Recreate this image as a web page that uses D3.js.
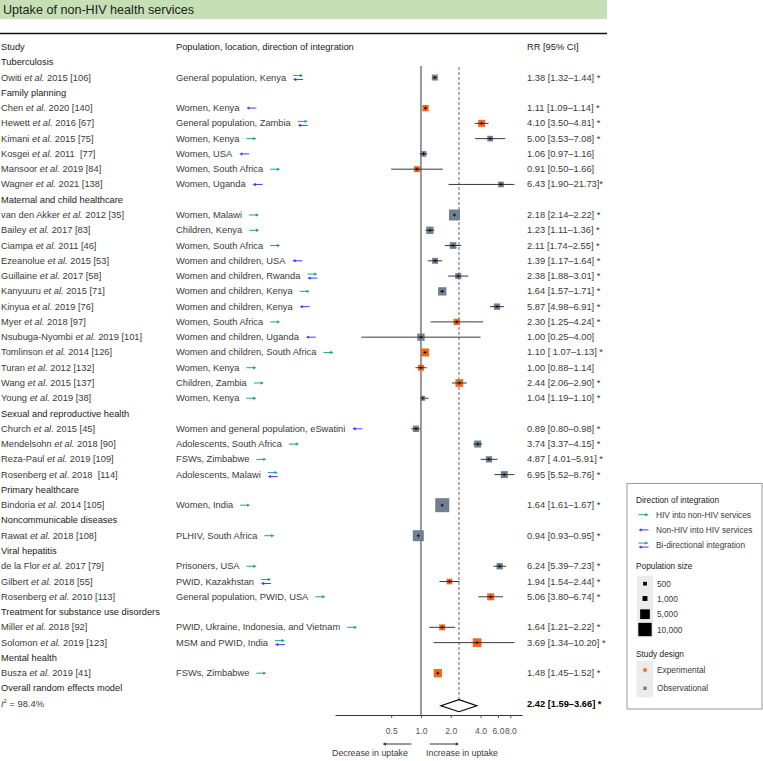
<!DOCTYPE html>
<html>
<head>
<meta charset="utf-8">
<script src="https://cdn.jsdelivr.net/npm/d3@7"></script>
<style>
  html, body { margin: 0; padding: 0; background: #fff; }
  svg { display: block; font-family: "Liberation Sans", Arial, sans-serif; }
  text { white-space: pre; }
</style>
</head>
<body>
<svg id="chart" width="763" height="761"></svg>
<script>
// ---------------- DATA ----------------
const title = "Uptake of non-HIV health services";
const groups = ["Tuberculosis", "Family planning", "Maternal and child healthcare",
  "Sexual and reproductive health", "Primary healthcare", "Noncommunicable diseases",
  "Viral hepatitis", "Treatment for substance use disorders", "Mental health"];
const studyGroup = [0, 1,1,1,1,1,1, 2,2,2,2,2,2,2,2,2,2,2,2,2, 3,3,3,3, 4, 5, 6,6,6, 7,7, 8];
const studyAuthor = ["Owiti","Chen","Hewett","Kimani","Kosgei","Mansoor","Wagner",
  "van den Akker","Bailey","Ciampa","Ezeanolue","Guillaine","Kanyuuru","Kinyua","Myer",
  "Nsubuga-Nyombi","Tomlinson","Turan","Wang","Young",
  "Church","Mendelsohn","Reza-Paul","Rosenberg","Bindoria","Rawat",
  "de la Flor","Gilbert","Rosenberg","Miller","Solomon","Busza"];
const studyRef = ["2015 [106]","2020 [140]","2016 [67]","2015 [75]","2011  [77]","2019 [84]","2021 [138]",
  "2012 [35]","2017 [83]","2011 [46]","2015 [53]","2017 [58]","2015 [71]","2019 [76]","2018 [97]",
  "2019 [101]","2014 [126]","2012 [132]","2015 [137]","2019 [38]",
  "2015 [45]","2018 [90]","2019 [109]","2018  [114]","2014 [105]","2018 [108]",
  "2017 [79]","2018 [55]","2010 [113]","2018 [92]","2019 [123]","2019 [41]"];
const population = ["General population, Kenya","Women, Kenya","General population, Zambia","Women, Kenya",
  "Women, USA","Women, South Africa","Women, Uganda",
  "Women, Malawi","Children, Kenya","Women, South Africa","Women and children, USA",
  "Women and children, Rwanda","Women and children, Kenya","Women and children, Kenya","Women, South Africa",
  "Women and children, Uganda","Women and children, South Africa","Women, Kenya","Children, Zambia","Women, Kenya",
  "Women and general population, eSwatini","Adolescents, South Africa","FSWs, Zimbabwe","Adolescents, Malawi",
  "Women, India","PLHIV, South Africa",
  "Prisoners, USA","PWID, Kazakhstan","General population, PWID, USA",
  "PWID, Ukraine, Indonesia, and Vietnam","MSM and PWID, India","FSWs, Zimbabwe"];
// H = HIV into non-HIV, N = non-HIV into HIV, B = bi-directional
const direction = ["B","N","B","H","N","H","N", "H","H","H","N","B","H","N","H","N","H","H","H","H",
  "N","H","H","B","H","H","H","B","H","H","B","H"];
const rr    = [1.38,1.11,4.10,5.00,1.06,0.91,6.43, 2.18,1.23,2.11,1.39,2.38,1.64,5.87,2.30,1.00,1.10,1.00,2.44,1.04,
  0.89,3.74,4.87,6.95,1.64,0.94,6.24,1.94,5.06,1.64,3.69,1.48];
const ciLow = [1.32,1.09,3.50,3.53,0.97,0.50,1.90, 2.14,1.11,1.74,1.17,1.88,1.57,4.98,1.25,0.25,1.07,0.88,2.06,1.19,
  0.80,3.37,4.01,5.52,1.61,0.93,5.39,1.54,3.80,1.21,1.34,1.45];
const ciHigh= [1.44,1.14,4.81,7.08,1.16,1.66,21.73, 2.22,1.36,2.55,1.64,3.01,1.71,6.91,4.24,4.00,1.13,1.14,2.90,1.10,
  0.98,4.15,5.91,8.76,1.67,0.95,7.23,2.44,6.74,2.22,10.20,1.52];
const rrLabel = ["1.38 [1.32–1.44] *","1.11 [1.09–1.14] *","4.10 [3.50–4.81] *","5.00 [3.53–7.08] *",
  "1.06 [0.97–1.16]","0.91 [0.50–1.66]","6.43 [1.90–21.73]*",
  "2.18 [2.14–2.22] *","1.23 [1.11–1.36] *","2.11 [1.74–2.55] *","1.39 [1.17–1.64] *","2.38 [1.88–3.01] *",
  "1.64 [1.57–1.71] *","5.87 [4.98–6.91] *","2.30 [1.25–4.24] *","1.00 [0.25–4.00]","1.10 [ 1.07–1.13] *",
  "1.00 [0.88–1.14]","2.44 [2.06–2.90] *","1.04 [1.19–1.10] *",
  "0.89 [0.80–0.98] *","3.74 [3.37–4.15] *","4.87 [ 4.01–5.91] *","6.95 [5.52–8.76] *",
  "1.64 [1.61–1.67] *","0.94 [0.93–0.95] *",
  "6.24 [5.39–7.23] *","1.94 [1.54–2.44] *","5.06 [3.80–6.74] *",
  "1.64 [1.21–2.22] *","3.69 [1.34–10.20] *","1.48 [1.45–1.52] *"];
// E = experimental, O = observational
const design = ["O","E","E","O","O","E","O", "O","O","O","O","O","O","O","E","O","E","E","E","O",
  "O","O","O","O","O","O","O","E","E","E","E","E"];
const popSize = [1650,1860,2380,1460,1460,1650,1460, 6600,2620,2150,1650,1650,3520,1860,1860,2620,3240,1650,2970,1060,
  1860,2380,1860,2380,11200,6600,1860,1460,2380,1650,3920,3520];
const overall = {label: "Overall random effects model", i2: "98.4%", rr: 2.42, lo: 1.59, hi: 3.66, text: "2.42 [1.59–3.66] *"};
const tickValues = [0.5, 1, 2, 4, 6, 8];
const ciClip = 8.8;
const legendSizes = [500, 1000, 5000, 10000];
const legendSizeLabels = ["500", "1,000", "5,000", "10,000"];
const directionLabels = {H: "HIV into non-HIV services", N: "Non-HIV into HIV services", B: "Bi-directional integration"};
const designLabels = {E: "Experimental", O: "Observational"};

// ---------------- STYLE ----------------
const colTeal = "#22a08a", colBlue = "#3d3dff";
const colDesign = {E: "#f4661f", O: "#708090"};
const textCol = "#3a3a3a", headCol = "#1a1a1a";
const fs = 9.3;

const svg = d3.select("#chart");

// title banner
svg.append("rect").attr("x", 0).attr("y", 0).attr("width", 607).attr("height", 19).attr("fill", "#c5e0b4");
svg.append("text").attr("x", 3).attr("y", 10).attr("dominant-baseline", "central")
  .attr("font-size", 12.6).attr("fill", "#222").text(title);
svg.append("line").attr("x1", 0).attr("x2", 607).attr("y1", 33.5).attr("y2", 33.5)
  .attr("stroke", "#111").attr("stroke-width", 1.3);

// rows
const rows = [{type: "header"}];
groups.forEach((g, gi) => {
  rows.push({type: "group", label: g});
  studyGroup.forEach((sg, i) => { if (sg === gi) rows.push({type: "study", i}); });
});
rows.push({type: "overall"});
rows.push({type: "i2"});

const y = d3.scaleLinear().domain([0, rows.length - 1]).range([47, 703.7]);
const x = d3.scaleLog().domain([Math.exp(-2), Math.exp(2.35)]).range([335, 522]);
const sz = d3.scaleSqrt().domain([0, 10000]).range([1, 13.3]);

const colStudy = 1, colPop = 176, colRR = 527;

function arrow(g, x1, x2, yy, color) {
  const dir = Math.sign(x2 - x1);
  g.append("line").attr("x1", x1).attr("x2", x2 - dir * 2).attr("y1", yy).attr("y2", yy)
    .attr("stroke", color).attr("stroke-width", 1);
  g.append("path").attr("d", `M${x2},${yy} L${x2 - dir * 3.2},${yy - 1.7} L${x2 - dir * 3.2},${yy + 1.7} Z`)
    .attr("fill", color);
}
function dirArrow(g, x0, yy, d) {
  if (d === "H") arrow(g, x0, x0 + 10, yy, colTeal);
  else if (d === "N") arrow(g, x0 + 10, x0, yy, colBlue);
  else { arrow(g, x0, x0 + 10, yy - 2, colTeal); arrow(g, x0 + 10, x0, yy + 2, colBlue); }
}

const tg = svg.append("g").attr("font-size", fs);
function txt(xx, yy, s, col) {
  return tg.append("text").attr("x", xx).attr("y", yy).attr("dominant-baseline", "central")
    .attr("fill", col || textCol).text(s);
}

// vertical reference lines
svg.append("line").attr("x1", x(1)).attr("x2", x(1)).attr("y1", 66).attr("y2", 715)
  .attr("stroke", "#333").attr("stroke-width", 1);
svg.append("line").attr("x1", x(overall.rr)).attr("x2", x(overall.rr)).attr("y1", 67).attr("y2", 711)
  .attr("stroke", "#666").attr("stroke-width", 1).attr("stroke-dasharray", "3,2");

const mg = svg.append("g");
rows.forEach((r, ri) => {
  const yy = y(ri);
  if (r.type === "header") {
    txt(colStudy, yy, "Study", headCol);
    txt(colPop, yy, "Population, location, direction of integration", headCol);
    txt(colRR, yy, "RR [95% CI]", headCol);
  } else if (r.type === "group") {
    txt(colStudy, yy, r.label, headCol);
  } else if (r.type === "study") {
    const i = r.i;
    const t = txt(colStudy, yy, studyAuthor[i] + " ");
    t.append("tspan").attr("font-style", "italic").text("et al.");
    t.append("tspan").text(" " + studyRef[i]);
    const p = txt(colPop, yy, population[i]);
    const w = p.node().getComputedTextLength();
    dirArrow(svg, colPop + w + 7, yy, direction[i]);
    txt(colRR, yy, rrLabel[i]);
    // marker
    const s = sz(popSize[i]);
    const cx = x(rr[i]);
    mg.append("rect").attr("x", cx - s / 2).attr("y", yy - s / 2).attr("width", s).attr("height", s)
      .attr("fill", colDesign[design[i]]);
    const lo = Math.min(ciLow[i], ciHigh[i]), hi = Math.min(Math.max(ciLow[i], ciHigh[i]), ciClip);
    mg.append("line").attr("x1", x(lo)).attr("x2", x(hi)).attr("y1", yy).attr("y2", yy)
      .attr("stroke", "#222").attr("stroke-width", 0.9);
    mg.append("line").attr("x1", cx - 1.5).attr("x2", cx + 1.5).attr("y1", yy).attr("y2", yy)
      .attr("stroke", "#111").attr("stroke-width", 0.9);
    mg.append("line").attr("x1", cx).attr("x2", cx).attr("y1", yy - 1.5).attr("y2", yy + 1.5)
      .attr("stroke", "#111").attr("stroke-width", 0.9);
  } else if (r.type === "overall") {
    txt(colStudy, yy, overall.label, headCol);
  } else if (r.type === "i2") {
    const t = txt(colStudy, yy, "");
    t.append("tspan").attr("font-style", "italic").text("I");
    t.append("tspan").attr("font-size", 6).attr("dy", -3).text("2");
    t.append("tspan").attr("dy", 3).text(" = " + overall.i2);
    txt(colRR, yy, overall.text, "#000").attr("font-weight", "bold");
    const dy = yy + 2;
    mg.append("path")
      .attr("d", `M${x(overall.lo)},${dy} L${x(overall.rr)},${dy - 6} L${x(overall.hi)},${dy} L${x(overall.rr)},${dy + 6} Z`)
      .attr("fill", "#fff").attr("stroke", "#000").attr("stroke-width", 1.2);
  }
});

// axis
const axis = d3.axisBottom(x).tickValues(tickValues).tickFormat(d3.format(".1f"))
  .tickSize(3).tickSizeOuter(0).tickPadding(10);
const ag = svg.append("g").attr("transform", "translate(0,715)").call(axis);
ag.select(".domain").attr("stroke", "#333");
ag.selectAll(".tick line").attr("stroke", "#555");
ag.selectAll(".tick text").attr("fill", "#555").attr("font-size", 8.6)
  .attr("font-family", "Liberation Sans, Arial, sans-serif");

// direction hints under axis
const hg = svg.append("g");
arrow(hg, x(0.80), x(0.41), 744, "#333");
arrow(hg, x(1.23), x(2.42), 744, "#333");
hg.append("text").attr("x", x(0.305)).attr("y", 753).attr("text-anchor", "middle").attr("dominant-baseline", "central")
  .attr("font-size", 8.8).attr("fill", textCol).text("Decrease in uptake");
hg.append("text").attr("x", x(2.6)).attr("y", 753).attr("text-anchor", "middle").attr("dominant-baseline", "central")
  .attr("font-size", 8.8).attr("fill", textCol).text("Increase in uptake");

// legend
const lg = svg.append("g").attr("font-size", 8.3);
lg.append("rect").attr("x", 627).attr("y", 483.5).attr("width", 135).attr("height", 225.5)
  .attr("fill", "#fff").attr("stroke", "#999").attr("stroke-width", 1);
function ltxt(xx, yy, s, col) {
  return lg.append("text").attr("x", xx).attr("y", yy).attr("dominant-baseline", "central")
    .attr("fill", col || textCol).text(s);
}
ltxt(636, 500, "Direction of integration", headCol);
["H", "N", "B"].forEach((d, k) => {
  const yy = 514.7 + k * 15.2;
  dirArrow(lg, 638.5, yy, d);
  ltxt(656, yy, directionLabels[d]);
});
ltxt(636, 565.7, "Population size", headCol);
const sizeY = [583.7, 598.5, 614.2, 629.5];
legendSizes.forEach((v, k) => {
  const yy = sizeY[k];
  lg.append("rect").attr("x", 637).attr("y", yy - 8).attr("width", 16).attr("height", 16).attr("fill", "#ebebeb");
});
legendSizes.forEach((v, k) => {
  const yy = sizeY[k], s = sz(v);
  lg.append("rect").attr("x", 645 - s / 2).attr("y", yy - s / 2).attr("width", s).attr("height", s).attr("fill", "#000");
  ltxt(657, yy, legendSizeLabels[k]);
});
ltxt(636, 654, "Study design", headCol);
["E", "O"].forEach((d, k) => {
  const yy = 670 + k * 18.3;
  lg.append("rect").attr("x", 636.5).attr("y", yy - 9).attr("width", 16.5).attr("height", 18).attr("fill", "#ebebeb");
  lg.append("rect").attr("x", 643.3).attr("y", yy - 1.7).attr("width", 3.4).attr("height", 3.4).attr("fill", colDesign[d]);
  ltxt(657, yy, designLabels[d]);
});
</script>
</body>
</html>
